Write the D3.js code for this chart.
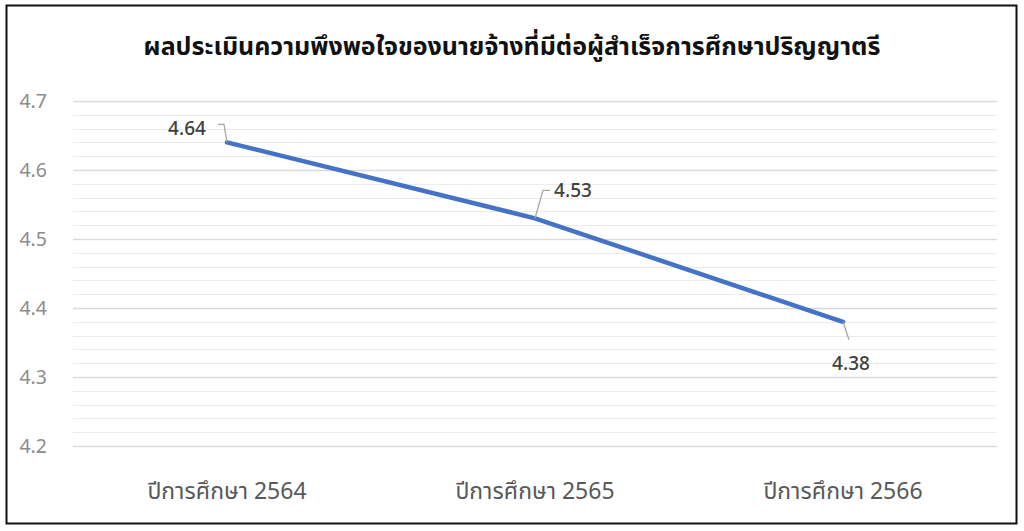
<!DOCTYPE html>
<html><head><meta charset="utf-8">
<script src="https://cdn.jsdelivr.net/npm/d3@7"></script>
<style>
html,body{margin:0;padding:0;background:#fff;}
svg{display:block;}
</style></head>
<body>
<svg id="chart" width="1024" height="531"></svg>
<script>
const title = "ผลประเมินความพึงพอใจของนายจ้างที่มีต่อผู้สำเร็จการศึกษาปริญญาตรี";
const categories = ["ปีการศึกษา 2564","ปีการศึกษา 2565","ปีการศึกษา 2566"];
const values = [4.64, 4.53, 4.38];
const yTicks = [4.2, 4.3, 4.4, 4.5, 4.6, 4.7];

const svg = d3.select("#chart");
const font = "'Noto Sans Thai','Noto Sans','Tahoma','DejaVu Sans',sans-serif";

svg.append("rect").attr("x",6.5).attr("y",5.5).attr("width",1010).attr("height",518)
  .attr("fill","#fff").attr("stroke","#111").attr("stroke-width",2);

const x = d3.scaleBand().domain(categories).range([73,997]);
const y = d3.scaleLinear().domain([4.2,4.7]).range([446,101]);

// minor grid
const minor = d3.range(0,26).map(i => 4.2 + i*0.02);
svg.append("g").selectAll("line").data(minor).join("line")
  .attr("x1",73).attr("x2",997)
  .attr("y1",d=>Math.round(y(d))+0.5).attr("y2",d=>Math.round(y(d))+0.5)
  .attr("stroke","#ebebeb").attr("stroke-width",1);

// major grid via axis
const yAxis = d3.axisLeft(y).tickValues(yTicks).tickFormat(d3.format(".1f")).tickSize(-924).tickPadding(26);
const ga = svg.append("g").attr("transform","translate(73,0)").call(yAxis);
ga.select(".domain").remove();
ga.selectAll(".tick line").attr("stroke","#d9d9d9").attr("stroke-width",1.5);
ga.selectAll(".tick text").attr("fill","#8c8c8c").style("font-size","19.5px").style("font-family",font);

// x axis labels
const xAxis = d3.axisBottom(x).tickSize(0).tickPadding(0);
const gx = svg.append("g").attr("transform","translate(0,491)").call(xAxis);
gx.select(".domain").remove();
gx.selectAll(".tick text").attr("fill","#595959").attr("dy","0.35em")
  .style("font-size","23px").style("font-family",font);

// line
svg.append("path").datum(values.map((v,i)=>({c:categories[i],v})))
  .attr("d", d3.line().x(d=>x(d.c)+x.bandwidth()/2).y(d=>y(d.v)))
  .attr("fill","none").attr("stroke","#4472C4").attr("stroke-width",4.5).attr("stroke-linecap","round");

// data labels with leader lines
const lab = [
  {dx:-40, dy:-14, leader:[[-9,-18],[-3,-18],[0,0]]},
  {dx:38, dy:-28, leader:[[15,-28],[8,-28],[0,0]]},
  {dx:8, dy:42, leader:[[6,18],[0,0]]}
];
const gl = svg.append("g");
values.forEach((v,i)=>{
  const cx = x(categories[i])+x.bandwidth()/2, cy = y(v);
  const L = lab[i];
  gl.append("path").attr("d", d3.line()(L.leader.map(p=>[cx+p[0],cy+p[1]])))
    .attr("fill","none").attr("stroke","#a6a6a6").attr("stroke-width",1.3);
  gl.append("text").attr("x",cx+L.dx).attr("y",cy+L.dy).attr("dy","0.35em")
    .attr("text-anchor","middle").attr("fill","#404040")
    .style("font-size","19px").style("font-weight","500").style("font-family",font).text(d3.format(".2f")(v));
});

// title
svg.append("text").attr("x",512).attr("y",46).attr("dy","0.35em").attr("text-anchor","middle")
  .attr("fill","#111").style("font-size","25px").style("font-weight","bold").style("font-family",font)
  .text(title);
</script>
</body></html>
